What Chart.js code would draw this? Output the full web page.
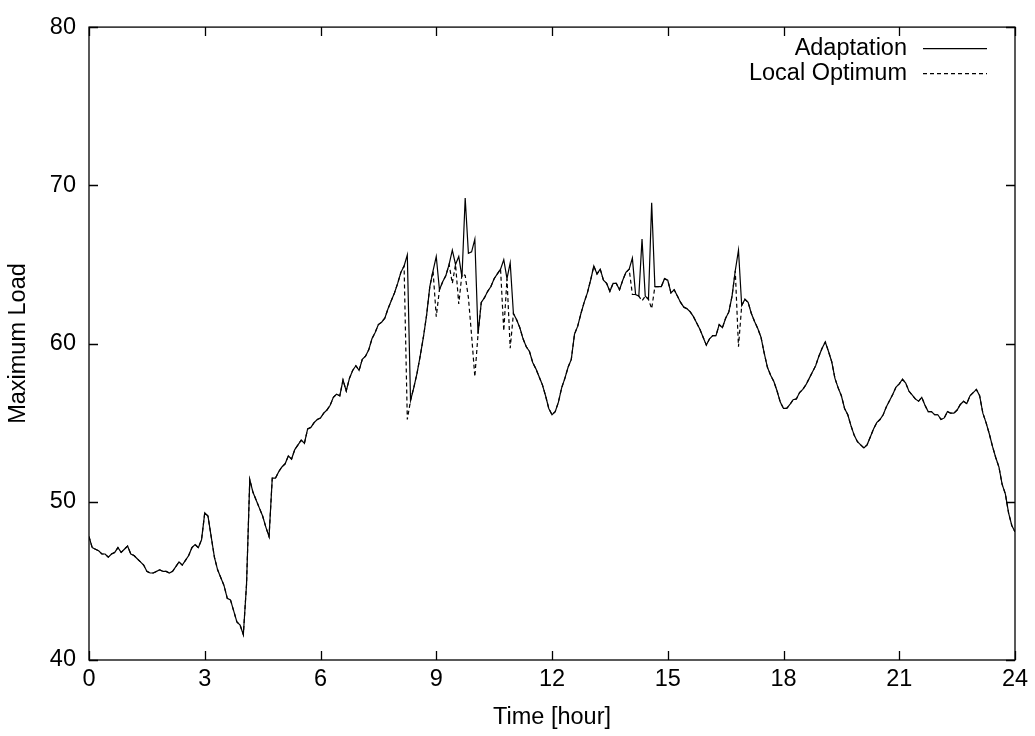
<!DOCTYPE html>
<html>
<head>
<meta charset="utf-8">
<title>Maximum Load</title>
<script src="https://cdn.jsdelivr.net/npm/chart.js@4.4.1/dist/chart.umd.min.js"></script>
<style>
  html, body { margin: 0; padding: 0; background: #fff; }
  #wrap { width: 1035px; height: 736px; }
</style>
</head>
<body>
<div id="wrap"><canvas id="loadChart" width="1035" height="736"></canvas></div>
<script>
// one sample every 5 minutes, 0:00 .. 24:00 (one row = one hour)
var sampleMinutes = 5;
var adaptation = [
  47.8, 47.1, 47.0, 46.9, 46.7, 46.7, 46.5, 46.7, 46.8, 47.1, 46.8, 47.0,
  47.2, 46.7, 46.6, 46.4, 46.2, 46.0, 45.6, 45.5, 45.5, 45.6, 45.7, 45.6,
  45.6, 45.5, 45.6, 45.9, 46.2, 46.0, 46.3, 46.6, 47.1, 47.3, 47.1, 47.6,
  49.3, 49.1, 47.8, 46.5, 45.7, 45.2, 44.7, 43.9, 43.8, 43.1, 42.4, 42.2,
  41.6, 44.8, 51.4, 50.6, 50.1, 49.6, 49.1, 48.4, 47.8, 51.5, 51.5, 51.9,
  52.2, 52.4, 52.9, 52.7, 53.3, 53.6, 53.9, 53.7, 54.6, 54.7, 55.0, 55.2,
  55.3, 55.6, 55.8, 56.1, 56.6, 56.8, 56.7, 57.7, 57.0, 57.8, 58.3, 58.6,
  58.3, 59.0, 59.2, 59.6, 60.3, 60.7, 61.2, 61.35, 61.6, 62.2, 62.7, 63.2,
  63.8, 64.5, 64.9, 65.6, 56.4, 57.2, 58.1, 59.2, 60.4, 61.8, 63.6, 64.6,
  65.5, 63.4, 63.9, 64.3, 65.0, 65.9, 65.0, 65.5, 64.2, 69.2, 65.7, 65.8,
  66.6, 60.6, 62.6, 62.9, 63.3, 63.6, 64.1, 64.4, 64.7, 65.3, 64.1, 65.1,
  61.9, 61.5, 61.0, 60.3, 59.8, 59.5, 58.8, 58.4, 57.9, 57.4, 56.7, 55.9,
  55.5, 55.7, 56.3, 57.2, 57.8, 58.5, 59.0, 60.6, 61.1, 61.9, 62.6, 63.2,
  64.0, 64.9, 64.4, 64.7, 64.0, 63.8, 63.3, 63.8, 63.8, 63.4, 64.0, 64.5,
  64.7, 65.4, 63.1, 63.0, 66.6, 63.0, 62.8, 68.9, 63.6, 63.6, 63.6, 64.1,
  64.0, 63.2, 63.4, 63.0, 62.6, 62.3, 62.2, 62.0, 61.7, 61.3, 60.9, 60.4,
  59.9, 60.3, 60.5, 60.5, 61.2, 61.0, 61.6, 62.0, 63.0, 64.6, 65.9, 62.4,
  62.8, 62.6, 61.9, 61.4, 60.95, 60.4, 59.4, 58.5, 58.0, 57.6, 57.0, 56.3,
  55.9, 55.9, 56.15, 56.45, 56.5, 56.9, 57.1, 57.4, 57.8, 58.2, 58.6, 59.2,
  59.7, 60.1, 59.5, 58.85, 57.8, 57.2, 56.7, 55.9, 55.5, 54.8, 54.2, 53.8,
  53.6, 53.4, 53.6, 54.1, 54.6, 55.0, 55.2, 55.5, 56.0, 56.4, 56.8, 57.25,
  57.45, 57.75, 57.5, 57.0, 56.75, 56.5, 56.35, 56.6, 56.1, 55.7, 55.7, 55.5,
  55.5, 55.2, 55.3, 55.7, 55.6, 55.6, 55.8, 56.15, 56.35, 56.2, 56.7, 56.9,
  57.1, 56.7, 55.6, 55.0, 54.3, 53.5, 52.8, 52.2, 51.1, 50.5, 49.3, 48.5,
  48.1
];
// samples where the local optimum is not the same as the adaptation curve
var optimumIndex = [99, 108, 113, 115, 116, 117, 118, 119, 120, 129, 131, 169, 172, 175, 202];
var optimumValue = [55.2, 61.7, 63.8, 62.5, 64.4, 64.3, 62.9, 60.5, 57.9, 60.8, 59.7, 63.1, 62.7, 62.2, 59.8];

var xTicks = [0, 3, 6, 9, 12, 15, 18, 21, 24];
var yTicks = [40, 50, 60, 70, 80];
var seriesNames = ['Adaptation', 'Local Optimum'];

var FONT = '"Liberation Sans", Arial, Helvetica, sans-serif';
var FSIZE = 23.5;

function toPoints(vals){
  var pts = [];
  for (var i = 0; i < vals.length; i++) {
    pts.push({x: i * sampleMinutes / 60, y: vals[i]});
  }
  return pts;
}
var optimum = adaptation.slice();
for (var j = 0; j < optimumIndex.length; j++) {
  optimum[optimumIndex[j]] = optimumValue[j];
}

// gnuplot style box, inward ticks and legend
var frameTicks = {
  id: 'frameTicks',
  afterDatasetsDraw: function(chart){
    var ctx = chart.ctx, a = chart.chartArea;
    var xs = chart.scales.x, ys = chart.scales.y;
    var tl = 9;
    ctx.save();
    ctx.strokeStyle = '#000';
    ctx.lineWidth = 1.3;
    ctx.setLineDash([]);
    ctx.strokeRect(a.left, a.top, a.right - a.left, a.bottom - a.top);
    ctx.beginPath();
    xTicks.forEach(function(v){
      var px = Math.round(xs.getPixelForValue(v)) + 0.5;
      ctx.moveTo(px, a.bottom); ctx.lineTo(px, a.bottom - tl);
      ctx.moveTo(px, a.top); ctx.lineTo(px, a.top + tl);
    });
    yTicks.forEach(function(v){
      var py = Math.round(ys.getPixelForValue(v)) + 0.5;
      ctx.moveTo(a.left, py); ctx.lineTo(a.left + tl, py);
      ctx.moveTo(a.right, py); ctx.lineTo(a.right - tl, py);
    });
    ctx.stroke();

    // legend, text left of the sample line
    ctx.font = FSIZE + 'px ' + FONT;
    ctx.fillStyle = '#000';
    ctx.textAlign = 'right';
    ctx.textBaseline = 'middle';
    chart.data.datasets.forEach(function(ds, i){
      var y = a.top + 21 + i * 25;
      ctx.fillText(ds.label, a.right - 108, y);
      ctx.beginPath();
      ctx.lineWidth = 1.2;
      ctx.setLineDash(ds.borderDash || []);
      ctx.moveTo(a.right - 92, y + 0.5);
      ctx.lineTo(a.right - 28, y + 0.5);
      ctx.stroke();
    });
    ctx.restore();
  }
};

var ctx = document.getElementById('loadChart');
var chart = new Chart(ctx, {
  type: 'line',
  data: {
    datasets: [
      {
        label: seriesNames[0],
        data: toPoints(adaptation),
        borderColor: '#000',
        borderWidth: 1.2,
        pointRadius: 0,
        tension: 0,
        fill: false
      },
      {
        label: seriesNames[1],
        data: toPoints(optimum),
        borderColor: '#000',
        borderWidth: 1.2,
        borderDash: [4, 3],
        pointRadius: 0,
        tension: 0,
        fill: false
      }
    ]
  },
  options: {
    responsive: false,
    animation: false,
    devicePixelRatio: 1,
    layout: { padding: { top: 20, right: 20, left: 0, bottom: 0 } },
    plugins: {
      legend: { display: false },
      tooltip: { enabled: false },
      title: { display: false }
    },
    scales: {
      x: {
        type: 'linear',
        min: 0,
        max: 24,
        afterBuildTicks: function(s){ s.ticks = xTicks.map(function(v){ return {value: v}; }); },
        afterFit: function(s){ s.height = 76; },
        grid: { display: false, drawTicks: false },
        border: { display: false },
        ticks: {
          color: '#000',
          padding: 5,
          maxRotation: 0,
          font: { family: FONT, size: FSIZE }
        },
        title: {
          display: true,
          text: 'Time [hour]',
          color: '#000',
          padding: { top: 0, bottom: 4 },
          font: { family: FONT, size: FSIZE }
        }
      },
      y: {
        min: 40,
        max: 80,
        afterBuildTicks: function(s){ s.ticks = yTicks.map(function(v){ return {value: v}; }); },
        afterFit: function(s){ s.width = 89; },
        grid: { display: false, drawTicks: false },
        border: { display: false },
        ticks: {
          color: '#000',
          padding: 13,
          font: { family: FONT, size: FSIZE }
        },
        title: {
          display: true,
          text: 'Maximum Load',
          color: '#000',
          padding: { top: 4, bottom: 0 },
          font: { family: FONT, size: FSIZE }
        }
      }
    }
  },
  plugins: [frameTicks]
});
</script>
</body>
</html>
